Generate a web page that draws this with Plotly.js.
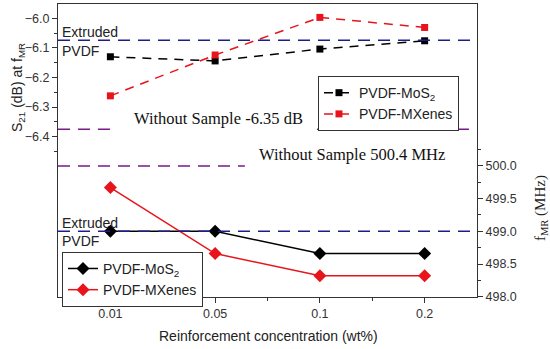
<!DOCTYPE html>
<html>
<head>
<meta charset="utf-8">
<script src="https://cdn.plot.ly/plotly-3.0.1.min.js"></script>
<style>html,body{margin:0;padding:0;background:#fff;}#chart{width:550px;height:349px;}</style>
</head>
<body>
<div id="chart"></div>
<script>
// Data
const categories = ["0.01", "0.05", "0.1", "0.2"];
const s21MoS2 = [-6.13, -6.144, -6.104, -6.076];
const s21MXenes = [-6.262, -6.124, -5.997, -6.031];
const fmrMoS2 = [499.0, 499.0, 498.66, 498.66];
const fmrMXenes = [499.67, 498.66, 498.32, 498.32];
const s21TickVals = [-6.0, -6.1, -6.2, -6.3, -6.4];
const s21MinorVals = [-6.05, -6.15, -6.25, -6.35, -6.45];
const fmrTickVals = [498.0, 498.5, 499.0, 499.5, 500.0];
const fmrMinorVals = [498.25, 498.75, 499.25, 499.75, 500.25];
const s21Extruded = -6.074;
const s21WithoutLine = -6.375;
const fmrExtruded = 499.0;
const fmrWithoutLine = 500.0;

const idx = categories.map((c, i) => i);
const RED = '#e8141c';
const BLUE = '#1c1c8a';
const PURPLE = '#7a1a8a';

const traces = [
  {x: idx, y: s21MoS2, name: 'PVDF-MoS<sub>2</sub>', mode: 'lines+markers', yaxis: 'y', legend: 'legend',
   line: {color: '#000', width: 1.5, dash: '9px,7px'}, marker: {symbol: 'square', size: 7, color: '#000'}},
  {x: idx, y: s21MXenes, name: 'PVDF-MXenes', mode: 'lines+markers', yaxis: 'y', legend: 'legend',
   line: {color: RED, width: 1.5, dash: '9px,7px'}, marker: {symbol: 'square', size: 7, color: RED}},
  {x: idx, y: fmrMoS2, name: 'PVDF-MoS<sub>2</sub>', mode: 'lines+markers', yaxis: 'y2', legend: 'legend2',
   line: {color: '#000', width: 1.5}, marker: {symbol: 'diamond', size: 10, color: '#000'}},
  {x: idx, y: fmrMXenes, name: 'PVDF-MXenes', mode: 'lines+markers', yaxis: 'y2', legend: 'legend2',
   line: {color: RED, width: 1.5}, marker: {symbol: 'diamond', size: 10, color: RED}}
];

const tickFont = {family: 'Liberation Sans, Arial, sans-serif', size: 12.5, color: '#333'};
const serif = 'Liberation Serif, DejaVu Serif, serif';
const sans = 'Liberation Sans, Arial, sans-serif';

const layout = {
  width: 550, height: 349,
  margin: {l: 58, r: 73, t: 4, b: 52},
  paper_bgcolor: '#fff', plot_bgcolor: '#fff',
  showlegend: true,
  xaxis: {
    range: [-0.5, 3.5], tickvals: idx, ticktext: categories,
    showline: true, mirror: true, linecolor: '#333', linewidth: 1,
    ticks: 'outside', ticklen: 5, tickcolor: '#333', showgrid: false, zeroline: false,
    tickfont: tickFont,
    minor: {tickvals: [0.5, 1.5, 2.5], ticks: 'outside', ticklen: 3, tickcolor: '#333'}
  },
  yaxis: {
    range: [-6.9416, -5.9517], tickvals: s21TickVals, tickformat: '.1f',
    showline: true, linecolor: '#333', linewidth: 1,
    ticks: 'outside', ticklen: 5, tickcolor: '#333', showgrid: false, zeroline: false,
    tickfont: tickFont,
    minor: {tickvals: s21MinorVals, ticks: 'outside', ticklen: 3, tickcolor: '#333'}
  },
  yaxis2: {
    range: [497.995, 502.479], overlaying: 'y', side: 'right', tickvals: fmrTickVals, tickformat: '.1f',
    showline: true, linecolor: '#333', linewidth: 1,
    ticks: 'outside', ticklen: 5, tickcolor: '#333', showgrid: false, zeroline: false,
    tickfont: tickFont,
    minor: {tickvals: fmrMinorVals, ticks: 'outside', ticklen: 3, tickcolor: '#333'}
  },
  legend: {
    x: 0.6205, y: 0.754, xanchor: 'left', yanchor: 'top',
    bgcolor: '#fff', bordercolor: '#333', borderwidth: 1, itemwidth: 30,
    font: {family: sans, size: 14, color: '#222'}, tracegroupgap: 0
  },
  legend2: {
    x: 0.0095, y: 0.154, xanchor: 'left', yanchor: 'top',
    bgcolor: '#fff', bordercolor: '#333', borderwidth: 1, itemwidth: 30,
    font: {family: sans, size: 14, color: '#222'}, tracegroupgap: 0
  },
  shapes: [
    {type: 'line', xref: 'x domain', yref: 'y', x0: 0, x1: 1, y0: s21Extruded, y1: s21Extruded,
     line: {color: BLUE, width: 1.5, dash: '12px,8px'}},
    {type: 'line', xref: 'x domain', yref: 'y', x0: 0, x1: 0.124, y0: s21WithoutLine, y1: s21WithoutLine,
     line: {color: PURPLE, width: 1.5, dash: '12px,8px'}},
    {type: 'line', xref: 'x domain', yref: 'y', x0: 0.618, x1: 0.985, y0: s21WithoutLine, y1: s21WithoutLine,
     line: {color: PURPLE, width: 1.5, dash: '12px,8px'}},
    {type: 'line', xref: 'x domain', yref: 'y2', x0: 0, x1: 0.446, y0: fmrWithoutLine, y1: fmrWithoutLine,
     line: {color: PURPLE, width: 1.5, dash: '12px,8px'}},
    {type: 'line', xref: 'x domain', yref: 'y2', x0: 0, x1: 1, y0: fmrExtruded, y1: fmrExtruded,
     line: {color: BLUE, width: 1.5, dash: '12px,8px'}}
  ],
  annotations: [
    {text: 'Extruded', xref: 'paper', yref: 'paper', x: 0.005, y: (297 - 32) / 293, xanchor: 'left', yanchor: 'middle',
     showarrow: false, font: {family: sans, size: 14, color: '#222'}},
    {text: 'PVDF', xref: 'paper', yref: 'paper', x: 0.005, y: (297 - 51) / 293, xanchor: 'left', yanchor: 'middle',
     showarrow: false, font: {family: sans, size: 14, color: '#222'}},
    {text: 'Extruded', xref: 'paper', yref: 'paper', x: 0.005, y: (297 - 223) / 293, xanchor: 'left', yanchor: 'middle',
     showarrow: false, font: {family: sans, size: 14, color: '#222'}},
    {text: 'PVDF', xref: 'paper', yref: 'paper', x: 0.005, y: (297 - 241) / 293, xanchor: 'left', yanchor: 'middle',
     showarrow: false, font: {family: sans, size: 14, color: '#222'}},
    {text: 'Without Sample -6.35 dB', xref: 'paper', yref: 'paper', x: (132 - 58) / 419, y: (297 - 118) / 293,
     xanchor: 'left', yanchor: 'middle', showarrow: false, font: {family: serif, size: 16.5, color: '#111'}},
    {text: 'Without Sample 500.4 MHz', xref: 'paper', yref: 'paper', x: (257 - 58) / 419, y: (297 - 154) / 293,
     xanchor: 'left', yanchor: 'middle', showarrow: false, font: {family: serif, size: 16.5, color: '#111'}},
    {text: 'S<sub>21</sub> (dB) at f<sub>MR</sub>', xref: 'paper', yref: 'paper', x: (18 - 58) / 419, y: (297 - 88) / 293,
     xanchor: 'center', yanchor: 'middle', textangle: -90, showarrow: false, font: {family: sans, size: 14, color: '#222'}},
    {text: 'f<sub>MR</sub> (MHz)', xref: 'paper', yref: 'paper', x: (541 - 58) / 419, y: (297 - 208) / 293,
     xanchor: 'center', yanchor: 'middle', textangle: -90, showarrow: false, font: {family: serif, size: 15, color: '#222'}},
    {text: 'Reinforcement concentration (wt%)', xref: 'paper', yref: 'paper', x: (268 - 58) / 419, y: (297 - 336) / 293,
     xanchor: 'center', yanchor: 'middle', showarrow: false, font: {family: sans, size: 14, color: '#222'}}
  ]
};

Plotly.newPlot('chart', traces, layout, {displayModeBar: false, staticPlot: true});
</script>
</body>
</html>
